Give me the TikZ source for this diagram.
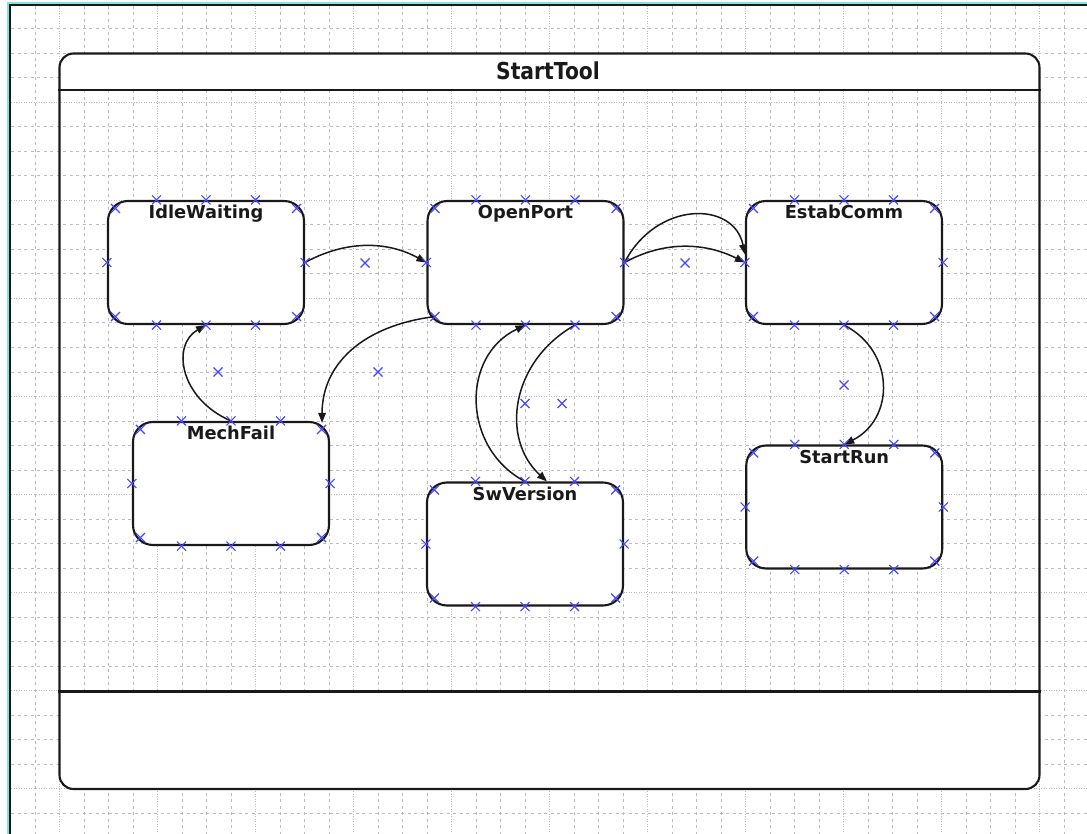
\documentclass[tikz,border=0pt]{standalone}
\usepackage{fontspec}
\setmainfont{DejaVu Sans}
\usetikzlibrary{arrows.meta,calc}

\definecolor{gridgray}{RGB}{188,188,188}
\definecolor{mkblue}{RGB}{70,70,255}
\definecolor{framecyan}{RGB}{130,225,225}
\definecolor{ink}{RGB}{25,25,25}

\tikzset{
  gridln/.style={gridgray, line width=1pt, dash pattern=on 3pt off 3.5pt},
  gridlnfine/.style={gridgray, line width=1pt, dash pattern=on 1pt off 1.5pt},
  stbox/.style={draw=ink, fill=white, line width=2.1pt, rounded corners=20pt,
    minimum width=196pt, minimum height=123pt, inner sep=0pt},
  stlabel/.style={anchor=base, inner sep=0pt, text=ink,
    font=\bfseries\fontsize{17.8}{20}\selectfont},
  xmk/.style={mkblue, line width=1.1pt},
  trans/.style={ink, line width=1.5pt, -{Triangle[length=10pt,width=7.5pt]}},
}

% blue cross marker centred on a named point
\newcommand\xat[1]{%
  \draw[xmk] ([shift={(-4.5,-4.5)}]#1) -- ([shift={(4.5,4.5)}]#1)
             ([shift={(-4.5,4.5)}]#1) -- ([shift={(4.5,-4.5)}]#1);}

\begin{document}
\begin{tikzpicture}[x=1pt,y=-1pt]
\useasboundingbox (0,0) rectangle (1087,834);
\fill[white] (0,0) rectangle (1087,834);

% editor grid
\foreach \k in {0,...,42}{
  \pgfmathsetmacro\gx{35+24.5*\k}
  \pgfmathtruncatemacro\m{mod(\k,4)}
  \ifnum\m=1 \draw[gridlnfine] (\gx,6) -- (\gx,834);
  \else \draw[gridln] (\gx,6) -- (\gx,834); \fi
}
\foreach \k in {0,...,32}{
  \pgfmathsetmacro\gy{29+24.5*\k}
  \pgfmathtruncatemacro\m{mod(\k,4)}
  \ifnum\m=3 \draw[gridlnfine] (11,\gy) -- (1087,\gy);
  \else \draw[gridln] (11,\gy) -- (1087,\gy); \fi
}

% window frame
\draw[framecyan, line width=2pt] (7.5,834) -- (7.5,3) -- (1087,3);
\draw[ink, line width=2.4pt] (10,834) -- (10,5) -- (1087,5);

% composite state StartTool
\begin{scope}
  \clip[rounded corners=14pt] (59.5,53.5) rectangle (1039.5,789);
  \fill[white] (59.5,53.5) rectangle (1039.5,90);
  \fill[white] (59.5,691.5) rectangle (1039.5,789);
\end{scope}
\node[draw=ink, line width=2.1pt, rounded corners=14pt, minimum width=980pt,
      minimum height=735.5pt, inner sep=0pt] (tool) at (549.5,421.25) {};
\coordinate (hdr) at (0,90);
\coordinate (ftr) at (0,691.5);
\draw[ink, line width=2.1pt] (tool.west |- hdr) -- (tool.east |- hdr);
\draw[ink, line width=2.1pt] (tool.west |- ftr) -- (tool.east |- ftr);
\node[anchor=base, inner sep=0pt, text=ink, font=\bfseries\fontsize{20.3}{22}\selectfont]
  (tooltitle) at (548,80) {\scalebox{1}[1.15]{StartTool}};

% sub-states
\node[stbox] (idle)  at (206,262.5)   {};
\node[stbox] (open)  at (525.5,262.5) {};
\node[stbox] (estab) at (844,262.5)   {};
\node[stbox] (mech)  at (231,483.5)   {};
\node[stbox] (sw)    at (525,544)     {};
\node[stbox] (run)   at (844.25,507)  {};

\node[stlabel] (idlet)  at ([shift={(0,19)}]idle.north)  {IdleWaiting};
\node[stlabel] (opent)  at ([shift={(0,19)}]open.north)  {OpenPort};
\node[stlabel] (estabt) at ([shift={(0,19)}]estab.north) {EstabComm};
\node[stlabel] (mecht)  at ([shift={(0,19)}]mech.north)  {MechFail};
\node[stlabel] (swt)    at ([shift={(0,19)}]sw.north)    {SwVersion};
\node[stlabel] (runt)   at ([shift={(0,19)}]run.north)   {StartRun};

% handle points on each state border
\foreach \s in {idle,open,estab,mech,sw,run}{
  \coordinate (\s-t1) at ($(\s.north west)!0.25!(\s.north east)$);
  \coordinate (\s-t3) at ($(\s.north west)!0.75!(\s.north east)$);
  \coordinate (\s-b1) at ($(\s.south west)!0.25!(\s.south east)$);
  \coordinate (\s-b3) at ($(\s.south west)!0.75!(\s.south east)$);
  \coordinate (\s-c1) at ([shift={(8.5,8.5)}]\s.north west);
  \coordinate (\s-c2) at ([shift={(-8.5,8.5)}]\s.north east);
  \coordinate (\s-c3) at ([shift={(8.5,-8.5)}]\s.south west);
  \coordinate (\s-c4) at ([shift={(-8.5,-8.5)}]\s.south east);
}

% transitions
\draw[trans] (idle.east) .. controls +(40,-22) and +(-40,-22) .. (open.west);
\draw[trans] (open.east) .. controls +(40,-22) and +(-40,-20) .. (estab.west);
\draw[trans] (open.east) .. controls +(32,-62) and +(-11,-54) .. ([shift={(0,-8)}]estab.west);
\draw[trans] (open-c3) .. controls +(-72,9) and +(0,-59) .. ([shift={(-8,2)}]mech.north east);
\draw[trans] (mech.north) .. controls +(-51,-22) and +(-35,20) .. (idle.south);
\draw[trans] (sw.north) .. controls +(-63,-33) and +(-65,31) .. (open.south);
\draw[trans] (open-b3) .. controls +(-64,36) and +(-47,-43) .. ([shift={(22,0)}]sw.north);
\draw[trans] (estab.south) .. controls +(51,26) and +(51,-26) .. (run.north);

% handle markers
\foreach \s in {idle,open,estab,mech,sw,run}{
  \foreach \a in {north,south,east,west}{\xat{\s.\a}}
  \foreach \p in {t1,t3,b1,b3,c1,c2,c3,c4}{\xat{\s-\p}}
}

% transition label handles
\coordinate (h1) at (365,263);
\coordinate (h2) at (685,263);
\coordinate (h3) at (218,372);
\coordinate (h4) at (378,372);
\coordinate (h5) at (525,403.5);
\coordinate (h6) at (562,403.5);
\coordinate (h7) at (844,385);
\foreach \h in {h1,h2,h3,h4,h5,h6,h7}{\xat{\h}}

\end{tikzpicture}
\end{document}
